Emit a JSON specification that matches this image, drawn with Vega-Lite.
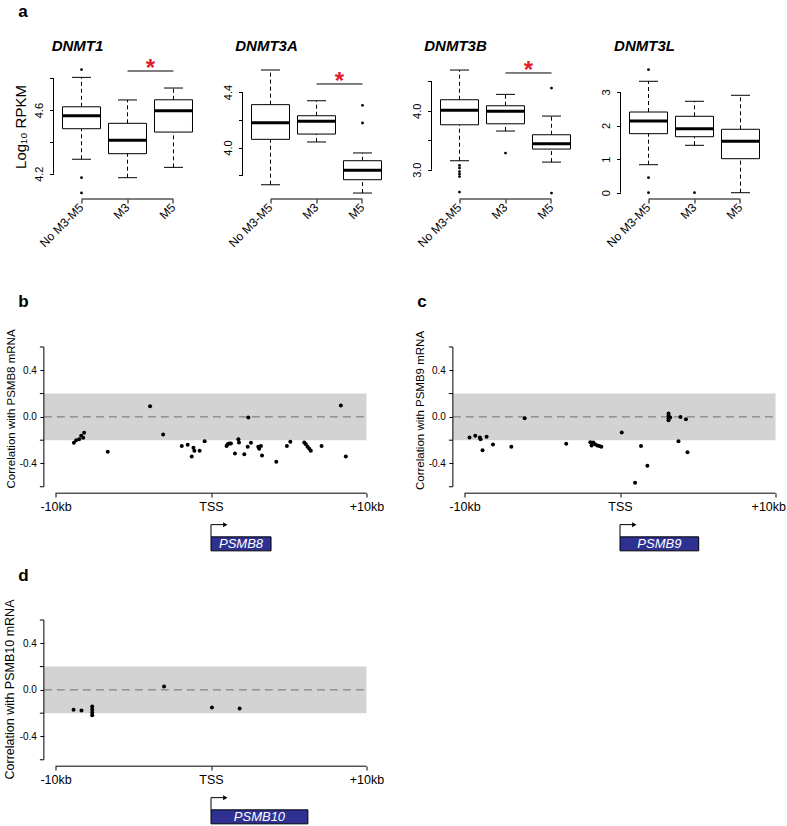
{
  "$schema": "https://vega.github.io/schema/vega-lite/v6.json",
  "padding": {"left": 2.5, "top": 2, "right": 0, "bottom": 0},
  "config": {
    "view": {"stroke": null},
    "font": "Liberation Sans",
    "locale": {"number": {"decimal": ".", "thousands": ",", "grouping": [3], "currency": ["$", ""], "minus": "-"}},
    "axis": {"labelFont": "Liberation Sans", "titleFont": "Liberation Sans", "labelColor": "black", "titleColor": "black", "tickColor": "black", "domainColor": "black", "grid": false, "titleFontWeight": "normal", "labelOverlap": false},
    "title": {"font": "Liberation Sans", "color": "black"}
  },
  "datasets": {
    "box": [
      {"gene": "DNMT1", "group": "No M3-M5", "lower": 4.291, "q1": 4.483, "median": 4.565, "q3": 4.621, "upper": 4.806},
      {"gene": "DNMT1", "group": "M3", "lower": 4.175, "q1": 4.326, "median": 4.41, "q3": 4.517, "upper": 4.664},
      {"gene": "DNMT1", "group": "M5", "lower": 4.24, "q1": 4.462, "median": 4.596, "q3": 4.665, "upper": 4.739},
      {"gene": "DNMT3A", "group": "No M3-M5", "lower": 3.732, "q1": 4.059, "median": 4.179, "q3": 4.309, "upper": 4.558},
      {"gene": "DNMT3A", "group": "M3", "lower": 4.04, "q1": 4.097, "median": 4.189, "q3": 4.229, "upper": 4.337},
      {"gene": "DNMT3A", "group": "M5", "lower": 3.672, "q1": 3.768, "median": 3.836, "q3": 3.905, "upper": 3.961},
      {"gene": "DNMT3B", "group": "No M3-M5", "lower": 3.152, "q1": 3.762, "median": 4.007, "q3": 4.187, "upper": 4.691},
      {"gene": "DNMT3B", "group": "M3", "lower": 3.656, "q1": 3.779, "median": 3.99, "q3": 4.085, "upper": 4.278},
      {"gene": "DNMT3B", "group": "M5", "lower": 3.129, "q1": 3.35, "median": 3.44, "q3": 3.593, "upper": 3.91},
      {"gene": "DNMT3L", "group": "No M3-M5", "lower": 0.834, "q1": 1.758, "median": 2.136, "q3": 2.404, "upper": 3.319},
      {"gene": "DNMT3L", "group": "M3", "lower": 1.412, "q1": 1.668, "median": 1.907, "q3": 2.276, "upper": 2.723},
      {"gene": "DNMT3L", "group": "M5", "lower": 0.0, "q1": 1.013, "median": 1.531, "q3": 1.889, "upper": 2.902}
    ],
    "outliers": [
      {"gene": "DNMT1", "group": "No M3-M5", "value": 4.855},
      {"gene": "DNMT1", "group": "No M3-M5", "value": 4.175},
      {"gene": "DNMT1", "group": "No M3-M5", "value": 4.079},
      {"gene": "DNMT3A", "group": "M5", "value": 4.304},
      {"gene": "DNMT3A", "group": "M5", "value": 4.177},
      {"gene": "DNMT3B", "group": "No M3-M5", "value": 3.073},
      {"gene": "DNMT3B", "group": "No M3-M5", "value": 3.028},
      {"gene": "DNMT3B", "group": "No M3-M5", "value": 2.968},
      {"gene": "DNMT3B", "group": "No M3-M5", "value": 2.926},
      {"gene": "DNMT3B", "group": "No M3-M5", "value": 2.883},
      {"gene": "DNMT3B", "group": "No M3-M5", "value": 2.62},
      {"gene": "DNMT3B", "group": "M3", "value": 3.282},
      {"gene": "DNMT3B", "group": "M5", "value": 4.385},
      {"gene": "DNMT3B", "group": "M5", "value": 2.603},
      {"gene": "DNMT3L", "group": "No M3-M5", "value": 3.664},
      {"gene": "DNMT3L", "group": "No M3-M5", "value": 0.447},
      {"gene": "DNMT3L", "group": "No M3-M5", "value": 0.0},
      {"gene": "DNMT3L", "group": "M3", "value": 0.0}
    ],
    "sig": [
      {"gene": "DNMT1", "from": "M3", "to": "M5", "y": 4.846},
      {"gene": "DNMT3A", "from": "M3", "to": "M5", "y": 4.458},
      {"gene": "DNMT3B", "from": "M3", "to": "M5", "y": 4.641}
    ],
    "axes": [
      {"gene": "DNMT1", "lo": 4.2, "hi": 4.8},
      {"gene": "DNMT3A", "lo": 3.8, "hi": 4.4},
      {"gene": "DNMT3B", "lo": 3.0, "hi": 4.5},
      {"gene": "DNMT3L", "lo": 0, "hi": 3}
    ],
    "band": [{"lo": -0.2, "hi": 0.2}],
    "yminor": [{"v": -0.6}, {"v": -0.2}, {"v": 0.2}, {"v": 0.6}],
    "genes": [
      {"panel": "b", "gene": "PSMB8", "start": 0, "end": 3.86},
      {"panel": "c", "gene": "PSMB9", "start": 0, "end": 5.06},
      {"panel": "d", "gene": "PSMB10", "start": 0, "end": 6.23}
    ],
    "corr": [
      {"panel": "b", "kb": -8.82, "r": -0.223}, {"panel": "b", "kb": -8.67, "r": -0.2}, {"panel": "b", "kb": -8.48, "r": -0.191},
      {"panel": "b", "kb": -8.35, "r": -0.163}, {"panel": "b", "kb": -8.22, "r": -0.18}, {"panel": "b", "kb": -8.16, "r": -0.137},
      {"panel": "b", "kb": -6.64, "r": -0.3}, {"panel": "b", "kb": -3.92, "r": 0.091}, {"panel": "b", "kb": -3.08, "r": -0.151},
      {"panel": "b", "kb": -1.88, "r": -0.249}, {"panel": "b", "kb": -1.5, "r": -0.24}, {"panel": "b", "kb": -1.24, "r": -0.34},
      {"panel": "b", "kb": -1.13, "r": -0.266}, {"panel": "b", "kb": -1.07, "r": -0.291}, {"panel": "b", "kb": -0.73, "r": -0.291},
      {"panel": "b", "kb": -0.41, "r": -0.209}, {"panel": "b", "kb": 1.0, "r": -0.249}, {"panel": "b", "kb": 1.07, "r": -0.234},
      {"panel": "b", "kb": 1.18, "r": -0.229}, {"panel": "b", "kb": 1.28, "r": -0.229}, {"panel": "b", "kb": 1.54, "r": -0.314},
      {"panel": "b", "kb": 1.76, "r": -0.191}, {"panel": "b", "kb": 1.8, "r": -0.22}, {"panel": "b", "kb": 2.14, "r": -0.32},
      {"panel": "b", "kb": 2.36, "r": -0.257}, {"panel": "b", "kb": 2.4, "r": -0.006}, {"panel": "b", "kb": 2.57, "r": -0.223},
      {"panel": "b", "kb": 3.04, "r": -0.257}, {"panel": "b", "kb": 3.1, "r": -0.274}, {"panel": "b", "kb": 3.21, "r": -0.249},
      {"panel": "b", "kb": 3.28, "r": -0.331}, {"panel": "b", "kb": 4.2, "r": -0.386}, {"panel": "b", "kb": 4.88, "r": -0.249},
      {"panel": "b", "kb": 5.1, "r": -0.214}, {"panel": "b", "kb": 6.0, "r": -0.22}, {"panel": "b", "kb": 6.1, "r": -0.234},
      {"panel": "b", "kb": 6.21, "r": -0.257}, {"panel": "b", "kb": 6.32, "r": -0.274}, {"panel": "b", "kb": 6.42, "r": -0.291},
      {"panel": "b", "kb": 7.11, "r": -0.249}, {"panel": "b", "kb": 8.35, "r": 0.097}, {"panel": "b", "kb": 8.67, "r": -0.34},
      {"panel": "c", "kb": -9.68, "r": -0.177}, {"panel": "c", "kb": -9.31, "r": -0.163}, {"panel": "c", "kb": -9.01, "r": -0.177},
      {"panel": "c", "kb": -8.97, "r": -0.191}, {"panel": "c", "kb": -8.84, "r": -0.286}, {"panel": "c", "kb": -8.58, "r": -0.171},
      {"panel": "c", "kb": -8.17, "r": -0.237}, {"panel": "c", "kb": -6.99, "r": -0.257}, {"panel": "c", "kb": -6.13, "r": -0.011},
      {"panel": "c", "kb": -3.46, "r": -0.231}, {"panel": "c", "kb": -1.91, "r": -0.217}, {"panel": "c", "kb": -1.83, "r": -0.246},
      {"panel": "c", "kb": -1.72, "r": -0.22}, {"panel": "c", "kb": -1.61, "r": -0.234}, {"panel": "c", "kb": -1.46, "r": -0.246},
      {"panel": "c", "kb": -1.33, "r": -0.251}, {"panel": "c", "kb": -1.2, "r": -0.257}, {"panel": "c", "kb": 0.11, "r": -0.134},
      {"panel": "c", "kb": 0.97, "r": -0.566}, {"panel": "c", "kb": 1.35, "r": -0.249}, {"panel": "c", "kb": 1.76, "r": -0.42},
      {"panel": "c", "kb": 3.12, "r": 0.029}, {"panel": "c", "kb": 3.12, "r": 0.009}, {"panel": "c", "kb": 3.12, "r": -0.011},
      {"panel": "c", "kb": 3.12, "r": -0.029}, {"panel": "c", "kb": 3.23, "r": -0.006}, {"panel": "c", "kb": 3.89, "r": 0.0},
      {"panel": "c", "kb": 3.76, "r": -0.209}, {"panel": "c", "kb": 4.24, "r": -0.02}, {"panel": "c", "kb": 4.34, "r": -0.303},
      {"panel": "d", "kb": -8.84, "r": -0.171}, {"panel": "d", "kb": -8.33, "r": -0.177}, {"panel": "d", "kb": -7.64, "r": -0.143},
      {"panel": "d", "kb": -7.64, "r": -0.169}, {"panel": "d", "kb": -7.64, "r": -0.194}, {"panel": "d", "kb": -7.64, "r": -0.217},
      {"panel": "d", "kb": -3.02, "r": 0.029}, {"panel": "d", "kb": 0.06, "r": -0.151}, {"panel": "d", "kb": 1.84, "r": -0.16}
    ]
  },
  "spacing": 44,
  "vconcat": [
    {
      "title": {"text": "a", "anchor": "start", "frame": "group", "dx": -35.3, "offset": 5, "baseline": "alphabetic", "fontSize": 17, "fontWeight": "bold"},
      "bounds": "flush",
      "spacing": 41,
      "hconcat": [
        {
          "width": 148, "height": 145,
          "title": {"text": "DNMT1", "anchor": "middle", "frame": "group", "dx": -50, "offset": -11.5, "baseline": "alphabetic", "fontSize": 15, "fontStyle": "italic", "fontWeight": "bold"},
          "encoding": {"x": {"field": "group", "type": "nominal", "title": null, "scale": {"domain": ["No M3-M5", "M3", "M5"], "paddingInner": 0, "paddingOuter": 0.1087}, "axis": {"domain": false, "tickSize": 4, "labelAngle": -45, "labelAlign": "right", "labelBaseline": "middle", "labelFontSize": 12, "labelPadding": 2}}},
          "layer": [
            {"data": {"name": "box"}, "transform": [{"filter": "datum.gene == 'DNMT1'"}], "mark": {"type": "rule", "strokeDash": [4, 3], "color": "black"},
             "encoding": {"y": {"field": "q3", "type": "quantitative", "scale": {"domain": [4.041, 4.953], "nice": false, "zero": false}, "axis": {"title": "Log\u2081\u2080 RPKM", "titleFontSize": 15, "titlePadding": 5, "domain": false, "values": [4.2, 4.4, 4.6, 4.8], "labelExpr": "datum.value == 4.2 || datum.value == 4.6 ? format(datum.value, '.1f') : ''", "tickSize": 4, "labelAngle": -90, "labelAlign": "center", "labelBaseline": "bottom", "labelPadding": 5, "labelFontSize": 11}}, "y2": {"field": "upper"}}},
            {"data": {"name": "box"}, "transform": [{"filter": "datum.gene == 'DNMT1'"}], "mark": {"type": "rule", "strokeDash": [4, 3], "color": "black"},
             "encoding": {"y": {"field": "lower", "type": "quantitative"}, "y2": {"field": "q1"}}},
            {"data": {"name": "box"}, "transform": [{"filter": "datum.gene == 'DNMT1'"}], "mark": {"type": "bar", "size": 38, "fill": "white", "stroke": "black", "strokeWidth": 1},
             "encoding": {"y": {"field": "q1", "type": "quantitative"}, "y2": {"field": "q3"}}},
            {"data": {"name": "box"}, "transform": [{"filter": "datum.gene == 'DNMT1'"}], "mark": {"type": "tick", "size": 38, "thickness": 3, "color": "black", "opacity": 1},
             "encoding": {"y": {"field": "median", "type": "quantitative"}}},
            {"data": {"name": "box"}, "transform": [{"filter": "datum.gene == 'DNMT1'"}], "mark": {"type": "tick", "size": 19, "thickness": 1, "color": "black", "opacity": 1},
             "encoding": {"y": {"field": "upper", "type": "quantitative"}}},
            {"data": {"name": "box"}, "transform": [{"filter": "datum.gene == 'DNMT1'"}], "mark": {"type": "tick", "size": 19, "thickness": 1, "color": "black", "opacity": 1},
             "encoding": {"y": {"field": "lower", "type": "quantitative"}}},
            {"data": {"name": "outliers"}, "transform": [{"filter": "datum.gene == 'DNMT1'"}], "mark": {"type": "circle", "size": 8, "color": "black", "opacity": 1},
             "encoding": {"y": {"field": "value", "type": "quantitative"}}},
            {"data": {"name": "sig"}, "transform": [{"filter": "datum.gene == 'DNMT1'"}], "mark": {"type": "rule", "color": "black"},
             "encoding": {"x": {"field": "from", "type": "nominal"}, "x2": {"field": "to"}, "y": {"field": "y", "type": "quantitative"}}},
            {"data": {"name": "sig"}, "transform": [{"filter": "datum.gene == 'DNMT1'"}], "mark": {"type": "text", "text": "*", "color": "#e0202b", "fontSize": 24, "fontWeight": "bold", "baseline": "alphabetic", "dy": 5},
             "encoding": {"x": {"field": "from", "type": "nominal", "bandPosition": 1}, "y": {"field": "y", "type": "quantitative"}}},
            {"data": {"name": "axes"}, "transform": [{"filter": "datum.gene == 'DNMT1'"}], "mark": {"type": "rule", "color": "black", "xOffset": -28},
             "encoding": {"x": {"datum": "No M3-M5", "type": "nominal"}, "y": {"field": "lo", "type": "quantitative"}, "y2": {"field": "hi"}}},
            {"data": {"name": "axes"}, "transform": [{"filter": "datum.gene == 'DNMT1'"}], "mark": {"type": "rule", "color": "black"},
             "encoding": {"x": {"datum": "No M3-M5", "type": "nominal"}, "x2": {"datum": "M5"}, "y": {"datum": 4.041, "type": "quantitative"}}}
          ]
        },
        {
          "width": 148, "height": 145,
          "title": {"text": "DNMT3A", "anchor": "middle", "frame": "group", "dx": -50, "offset": -11.5, "baseline": "alphabetic", "fontSize": 15, "fontStyle": "italic", "fontWeight": "bold"},
          "encoding": {"x": {"field": "group", "type": "nominal", "title": null, "scale": {"domain": ["No M3-M5", "M3", "M5"], "paddingInner": 0, "paddingOuter": 0.1087}, "axis": {"domain": false, "tickSize": 4, "labelAngle": -45, "labelAlign": "right", "labelBaseline": "middle", "labelFontSize": 12, "labelPadding": 2}}},
          "layer": [
            {"data": {"name": "box"}, "transform": [{"filter": "datum.gene == 'DNMT3A'"}], "mark": {"type": "rule", "strokeDash": [4, 3], "color": "black"},
             "encoding": {"y": {"field": "q3", "type": "quantitative", "scale": {"domain": [3.629, 4.674], "nice": false, "zero": false}, "axis": {"title": "", "domain": false, "values": [3.8, 4.0, 4.2, 4.4], "labelExpr": "datum.value == 4 || datum.value == 4.4 ? format(datum.value, '.1f') : ''", "tickSize": 4, "labelAngle": -90, "labelAlign": "center", "labelBaseline": "bottom", "labelPadding": 5, "labelFontSize": 11}}, "y2": {"field": "upper"}}},
            {"data": {"name": "box"}, "transform": [{"filter": "datum.gene == 'DNMT3A'"}], "mark": {"type": "rule", "strokeDash": [4, 3], "color": "black"},
             "encoding": {"y": {"field": "lower", "type": "quantitative"}, "y2": {"field": "q1"}}},
            {"data": {"name": "box"}, "transform": [{"filter": "datum.gene == 'DNMT3A'"}], "mark": {"type": "bar", "size": 38, "fill": "white", "stroke": "black", "strokeWidth": 1},
             "encoding": {"y": {"field": "q1", "type": "quantitative"}, "y2": {"field": "q3"}}},
            {"data": {"name": "box"}, "transform": [{"filter": "datum.gene == 'DNMT3A'"}], "mark": {"type": "tick", "size": 38, "thickness": 3, "color": "black", "opacity": 1},
             "encoding": {"y": {"field": "median", "type": "quantitative"}}},
            {"data": {"name": "box"}, "transform": [{"filter": "datum.gene == 'DNMT3A'"}], "mark": {"type": "tick", "size": 19, "thickness": 1, "color": "black", "opacity": 1},
             "encoding": {"y": {"field": "upper", "type": "quantitative"}}},
            {"data": {"name": "box"}, "transform": [{"filter": "datum.gene == 'DNMT3A'"}], "mark": {"type": "tick", "size": 19, "thickness": 1, "color": "black", "opacity": 1},
             "encoding": {"y": {"field": "lower", "type": "quantitative"}}},
            {"data": {"name": "outliers"}, "transform": [{"filter": "datum.gene == 'DNMT3A'"}], "mark": {"type": "circle", "size": 8, "color": "black", "opacity": 1},
             "encoding": {"y": {"field": "value", "type": "quantitative"}}},
            {"data": {"name": "sig"}, "transform": [{"filter": "datum.gene == 'DNMT3A'"}], "mark": {"type": "rule", "color": "black"},
             "encoding": {"x": {"field": "from", "type": "nominal"}, "x2": {"field": "to"}, "y": {"field": "y", "type": "quantitative"}}},
            {"data": {"name": "sig"}, "transform": [{"filter": "datum.gene == 'DNMT3A'"}], "mark": {"type": "text", "text": "*", "color": "#e0202b", "fontSize": 24, "fontWeight": "bold", "baseline": "alphabetic", "dy": 5},
             "encoding": {"x": {"field": "from", "type": "nominal", "bandPosition": 1}, "y": {"field": "y", "type": "quantitative"}}},
            {"data": {"name": "axes"}, "transform": [{"filter": "datum.gene == 'DNMT3A'"}], "mark": {"type": "rule", "color": "black", "xOffset": -28},
             "encoding": {"x": {"datum": "No M3-M5", "type": "nominal"}, "y": {"field": "lo", "type": "quantitative"}, "y2": {"field": "hi"}}},
            {"data": {"name": "axes"}, "transform": [{"filter": "datum.gene == 'DNMT3A'"}], "mark": {"type": "rule", "color": "black"},
             "encoding": {"x": {"datum": "No M3-M5", "type": "nominal"}, "x2": {"datum": "M5"}, "y": {"datum": 3.629, "type": "quantitative"}}}
          ]
        },
        {
          "width": 148, "height": 145,
          "title": {"text": "DNMT3B", "anchor": "middle", "frame": "group", "dx": -50, "offset": -11.5, "baseline": "alphabetic", "fontSize": 15, "fontStyle": "italic", "fontWeight": "bold"},
          "encoding": {"x": {"field": "group", "type": "nominal", "title": null, "scale": {"domain": ["No M3-M5", "M3", "M5"], "paddingInner": 0, "paddingOuter": 0.1087}, "axis": {"domain": false, "tickSize": 4, "labelAngle": -45, "labelAlign": "right", "labelBaseline": "middle", "labelFontSize": 12, "labelPadding": 2}}},
          "layer": [
            {"data": {"name": "box"}, "transform": [{"filter": "datum.gene == 'DNMT3B'"}], "mark": {"type": "rule", "strokeDash": [4, 3], "color": "black"},
             "encoding": {"y": {"field": "q3", "type": "quantitative", "scale": {"domain": [2.503, 4.963], "nice": false, "zero": false}, "axis": {"title": "", "domain": false, "values": [3.0, 3.5, 4.0, 4.5], "labelExpr": "datum.value == 3 || datum.value == 4 ? format(datum.value, '.1f') : ''", "tickSize": 4, "labelAngle": -90, "labelAlign": "center", "labelBaseline": "bottom", "labelPadding": 5, "labelFontSize": 11}}, "y2": {"field": "upper"}}},
            {"data": {"name": "box"}, "transform": [{"filter": "datum.gene == 'DNMT3B'"}], "mark": {"type": "rule", "strokeDash": [4, 3], "color": "black"},
             "encoding": {"y": {"field": "lower", "type": "quantitative"}, "y2": {"field": "q1"}}},
            {"data": {"name": "box"}, "transform": [{"filter": "datum.gene == 'DNMT3B'"}], "mark": {"type": "bar", "size": 38, "fill": "white", "stroke": "black", "strokeWidth": 1},
             "encoding": {"y": {"field": "q1", "type": "quantitative"}, "y2": {"field": "q3"}}},
            {"data": {"name": "box"}, "transform": [{"filter": "datum.gene == 'DNMT3B'"}], "mark": {"type": "tick", "size": 38, "thickness": 3, "color": "black", "opacity": 1},
             "encoding": {"y": {"field": "median", "type": "quantitative"}}},
            {"data": {"name": "box"}, "transform": [{"filter": "datum.gene == 'DNMT3B'"}], "mark": {"type": "tick", "size": 19, "thickness": 1, "color": "black", "opacity": 1},
             "encoding": {"y": {"field": "upper", "type": "quantitative"}}},
            {"data": {"name": "box"}, "transform": [{"filter": "datum.gene == 'DNMT3B'"}], "mark": {"type": "tick", "size": 19, "thickness": 1, "color": "black", "opacity": 1},
             "encoding": {"y": {"field": "lower", "type": "quantitative"}}},
            {"data": {"name": "outliers"}, "transform": [{"filter": "datum.gene == 'DNMT3B'"}], "mark": {"type": "circle", "size": 8, "color": "black", "opacity": 1},
             "encoding": {"y": {"field": "value", "type": "quantitative"}}},
            {"data": {"name": "sig"}, "transform": [{"filter": "datum.gene == 'DNMT3B'"}], "mark": {"type": "rule", "color": "black"},
             "encoding": {"x": {"field": "from", "type": "nominal"}, "x2": {"field": "to"}, "y": {"field": "y", "type": "quantitative"}}},
            {"data": {"name": "sig"}, "transform": [{"filter": "datum.gene == 'DNMT3B'"}], "mark": {"type": "text", "text": "*", "color": "#e0202b", "fontSize": 24, "fontWeight": "bold", "baseline": "alphabetic", "dy": 5},
             "encoding": {"x": {"field": "from", "type": "nominal", "bandPosition": 1}, "y": {"field": "y", "type": "quantitative"}}},
            {"data": {"name": "axes"}, "transform": [{"filter": "datum.gene == 'DNMT3B'"}], "mark": {"type": "rule", "color": "black", "xOffset": -28},
             "encoding": {"x": {"datum": "No M3-M5", "type": "nominal"}, "y": {"field": "lo", "type": "quantitative"}, "y2": {"field": "hi"}}},
            {"data": {"name": "axes"}, "transform": [{"filter": "datum.gene == 'DNMT3B'"}], "mark": {"type": "rule", "color": "black"},
             "encoding": {"x": {"datum": "No M3-M5", "type": "nominal"}, "x2": {"datum": "M5"}, "y": {"datum": 2.503, "type": "quantitative"}}}
          ]
        },
        {
          "width": 148, "height": 145,
          "title": {"text": "DNMT3L", "anchor": "middle", "frame": "group", "dx": -50, "offset": -11.5, "baseline": "alphabetic", "fontSize": 15, "fontStyle": "italic", "fontWeight": "bold"},
          "encoding": {"x": {"field": "group", "type": "nominal", "title": null, "scale": {"domain": ["No M3-M5", "M3", "M5"], "paddingInner": 0, "paddingOuter": 0.1087}, "axis": {"domain": false, "tickSize": 4, "labelAngle": -45, "labelAlign": "right", "labelBaseline": "middle", "labelFontSize": 12, "labelPadding": 2}}},
          "layer": [
            {"data": {"name": "box"}, "transform": [{"filter": "datum.gene == 'DNMT3L'"}], "mark": {"type": "rule", "strokeDash": [4, 3], "color": "black"},
             "encoding": {"y": {"field": "q3", "type": "quantitative", "scale": {"domain": [-0.188, 4.132], "nice": false, "zero": false}, "axis": {"title": "", "domain": false, "values": [0, 1, 2, 3], "format": "d", "tickSize": 4, "labelAngle": -90, "labelAlign": "center", "labelBaseline": "bottom", "labelPadding": 5, "labelFontSize": 11}}, "y2": {"field": "upper"}}},
            {"data": {"name": "box"}, "transform": [{"filter": "datum.gene == 'DNMT3L'"}], "mark": {"type": "rule", "strokeDash": [4, 3], "color": "black"},
             "encoding": {"y": {"field": "lower", "type": "quantitative"}, "y2": {"field": "q1"}}},
            {"data": {"name": "box"}, "transform": [{"filter": "datum.gene == 'DNMT3L'"}], "mark": {"type": "bar", "size": 38, "fill": "white", "stroke": "black", "strokeWidth": 1},
             "encoding": {"y": {"field": "q1", "type": "quantitative"}, "y2": {"field": "q3"}}},
            {"data": {"name": "box"}, "transform": [{"filter": "datum.gene == 'DNMT3L'"}], "mark": {"type": "tick", "size": 38, "thickness": 3, "color": "black", "opacity": 1},
             "encoding": {"y": {"field": "median", "type": "quantitative"}}},
            {"data": {"name": "box"}, "transform": [{"filter": "datum.gene == 'DNMT3L'"}], "mark": {"type": "tick", "size": 19, "thickness": 1, "color": "black", "opacity": 1},
             "encoding": {"y": {"field": "upper", "type": "quantitative"}}},
            {"data": {"name": "box"}, "transform": [{"filter": "datum.gene == 'DNMT3L'"}], "mark": {"type": "tick", "size": 19, "thickness": 1, "color": "black", "opacity": 1},
             "encoding": {"y": {"field": "lower", "type": "quantitative"}}},
            {"data": {"name": "outliers"}, "transform": [{"filter": "datum.gene == 'DNMT3L'"}], "mark": {"type": "circle", "size": 8, "color": "black", "opacity": 1},
             "encoding": {"y": {"field": "value", "type": "quantitative"}}},
            {"data": {"name": "axes"}, "transform": [{"filter": "datum.gene == 'DNMT3L'"}], "mark": {"type": "rule", "color": "black", "xOffset": -28},
             "encoding": {"x": {"datum": "No M3-M5", "type": "nominal"}, "y": {"field": "lo", "type": "quantitative"}, "y2": {"field": "hi"}}},
            {"data": {"name": "axes"}, "transform": [{"filter": "datum.gene == 'DNMT3L'"}], "mark": {"type": "rule", "color": "black"},
             "encoding": {"x": {"datum": "No M3-M5", "type": "nominal"}, "x2": {"datum": "M5"}, "y": {"datum": -0.188, "type": "quantitative"}}}
          ]
        }
      ]
    },
    {
      "spacing": 14,
      "vconcat": [
        {
          "bounds": "flush",
          "spacing": 96,
          "hconcat": [
            {
              "width": 313, "height": 205,
              "title": {"text": "b", "anchor": "start", "frame": "group", "dx": -35.3, "offset": 4.5, "baseline": "alphabetic", "fontSize": 17, "fontWeight": "bold"},
              "layer": [
                {"data": {"name": "band"}, "mark": {"type": "rect", "color": "#d3d3d3"},
                 "encoding": {"x": {"datum": -10.75, "type": "quantitative"}, "x2": {"datum": 10}, "y": {"field": "lo", "type": "quantitative"}, "y2": {"field": "hi"}}},
                {"data": {"name": "band"}, "mark": {"type": "rule", "strokeDash": [8, 5], "color": "#6f6f6f"},
                 "encoding": {"x": {"datum": -10.75, "type": "quantitative"}, "x2": {"datum": 10}, "y": {"datum": 0, "type": "quantitative"}}},
                {"data": {"name": "corr"}, "transform": [{"filter": "datum.panel == 'b'"}], "mark": {"type": "circle", "size": 16, "color": "black", "opacity": 1},
                 "encoding": {
                   "x": {"field": "kb", "type": "quantitative", "scale": {"domain": [-10.13, 10], "nice": false, "zero": false}, "axis": {"title": "", "values": [-10, 0, 10], "labelExpr": "datum.value == -10 ? '-10kb' : datum.value == 0 ? 'TSS' : '+10kb'", "domain": false, "tickSize": 4, "offset": -59, "labelPadding": 3, "labelFontSize": 12.5, "labelFlush": false}},
                   "y": {"field": "r", "type": "quantitative", "scale": {"domain": [-1.16, 0.6], "nice": false, "zero": false}, "axis": {"title": "Correlation with PSMB8 mRNA", "titleFontSize": 11.5, "titlePadding": 3, "titleY": 61.5, "offset": 9.6, "values": [-0.4, 0, 0.4], "format": ".1f", "domain": false, "tickSize": 4, "labelPadding": 3.5, "labelFontSize": 10}}}},
                {"data": {"name": "yminor"}, "mark": {"type": "rule", "color": "black"},
                 "encoding": {"x": {"datum": -11.007, "type": "quantitative"}, "x2": {"datum": -10.75}, "y": {"field": "v", "type": "quantitative"}}},
                {"data": {"name": "band"}, "mark": {"type": "rule", "color": "black"},
                 "encoding": {"x": {"datum": -10.75, "type": "quantitative"}, "y": {"datum": -0.6, "type": "quantitative"}, "y2": {"datum": 0.6}}},
                {"data": {"name": "band"}, "mark": {"type": "rule", "color": "black"},
                 "encoding": {"x": {"datum": -10, "type": "quantitative"}, "x2": {"datum": 10}, "y": {"datum": -0.655, "type": "quantitative"}}},
                {"data": {"name": "genes"}, "transform": [{"filter": "datum.panel == 'b'"}], "mark": {"type": "rect", "fill": "#2e3192", "stroke": "black", "strokeWidth": 1},
                 "encoding": {"x": {"field": "start", "type": "quantitative"}, "x2": {"field": "end"}, "y": {"datum": -1.03, "type": "quantitative"}, "y2": {"datum": -1.15}}},
                {"data": {"name": "genes"}, "transform": [{"filter": "datum.panel == 'b'"}, {"fold": ["start", "end"], "as": ["edge", "kbpos"]}], "mark": {"type": "text", "color": "white", "fontStyle": "italic", "fontSize": 13, "baseline": "middle"},
                 "encoding": {"x": {"aggregate": "mean", "field": "kbpos", "type": "quantitative"}, "y": {"datum": -1.09, "type": "quantitative"}, "text": {"field": "gene"}}},
                {"data": {"name": "genes"}, "transform": [{"filter": "datum.panel == 'b'"}], "mark": {"type": "rule", "color": "black"},
                 "encoding": {"x": {"field": "start", "type": "quantitative"}, "y": {"datum": -1.03, "type": "quantitative"}, "y2": {"datum": -0.925}}},
                {"data": {"name": "genes"}, "transform": [{"filter": "datum.panel == 'b'"}], "mark": {"type": "rule", "color": "black"},
                 "encoding": {"x": {"field": "start", "type": "quantitative"}, "x2": {"datum": 0.85}, "y": {"datum": -0.925, "type": "quantitative"}}},
                {"data": {"name": "genes"}, "transform": [{"filter": "datum.panel == 'b'"}], "mark": {"type": "point", "shape": "triangle-right", "filled": true, "size": 25, "color": "black", "opacity": 1},
                 "encoding": {"x": {"datum": 0.92, "type": "quantitative"}, "y": {"datum": -0.925, "type": "quantitative"}}}
              ]
            },
            {
              "width": 313, "height": 205,
              "title": {"text": "c", "anchor": "start", "frame": "group", "dx": -45.3, "offset": 6, "baseline": "alphabetic", "fontSize": 17, "fontWeight": "bold"},
              "layer": [
                {"data": {"name": "band"}, "mark": {"type": "rect", "color": "#d3d3d3"},
                 "encoding": {"x": {"datum": -10.75, "type": "quantitative"}, "x2": {"datum": 10}, "y": {"field": "lo", "type": "quantitative"}, "y2": {"field": "hi"}}},
                {"data": {"name": "band"}, "mark": {"type": "rule", "strokeDash": [8, 5], "color": "#6f6f6f"},
                 "encoding": {"x": {"datum": -10.75, "type": "quantitative"}, "x2": {"datum": 10}, "y": {"datum": 0, "type": "quantitative"}}},
                {"data": {"name": "corr"}, "transform": [{"filter": "datum.panel == 'c'"}], "mark": {"type": "circle", "size": 16, "color": "black", "opacity": 1},
                 "encoding": {
                   "x": {"field": "kb", "type": "quantitative", "scale": {"domain": [-10.13, 10], "nice": false, "zero": false}, "axis": {"title": "", "values": [-10, 0, 10], "labelExpr": "datum.value == -10 ? '-10kb' : datum.value == 0 ? 'TSS' : '+10kb'", "domain": false, "tickSize": 4, "offset": -59, "labelPadding": 3, "labelFontSize": 12.5, "labelFlush": true, "labelFlushOffset": 10}},
                   "y": {"field": "r", "type": "quantitative", "scale": {"domain": [-1.16, 0.6], "nice": false, "zero": false}, "axis": {"title": "Correlation with PSMB9 mRNA", "titleFontSize": 11.5, "titlePadding": 3, "titleY": 63, "offset": 9.6, "values": [-0.4, 0, 0.4], "format": ".1f", "domain": false, "tickSize": 4, "labelPadding": 3.5, "labelFontSize": 10}}}},
                {"data": {"name": "yminor"}, "mark": {"type": "rule", "color": "black"},
                 "encoding": {"x": {"datum": -11.007, "type": "quantitative"}, "x2": {"datum": -10.75}, "y": {"field": "v", "type": "quantitative"}}},
                {"data": {"name": "band"}, "mark": {"type": "rule", "color": "black"},
                 "encoding": {"x": {"datum": -10.75, "type": "quantitative"}, "y": {"datum": -0.6, "type": "quantitative"}, "y2": {"datum": 0.6}}},
                {"data": {"name": "band"}, "mark": {"type": "rule", "color": "black"},
                 "encoding": {"x": {"datum": -10, "type": "quantitative"}, "x2": {"datum": 10}, "y": {"datum": -0.655, "type": "quantitative"}}},
                {"data": {"name": "genes"}, "transform": [{"filter": "datum.panel == 'c'"}], "mark": {"type": "rect", "fill": "#2e3192", "stroke": "black", "strokeWidth": 1},
                 "encoding": {"x": {"field": "start", "type": "quantitative"}, "x2": {"field": "end"}, "y": {"datum": -1.03, "type": "quantitative"}, "y2": {"datum": -1.15}}},
                {"data": {"name": "genes"}, "transform": [{"filter": "datum.panel == 'c'"}, {"fold": ["start", "end"], "as": ["edge", "kbpos"]}], "mark": {"type": "text", "color": "white", "fontStyle": "italic", "fontSize": 13, "baseline": "middle"},
                 "encoding": {"x": {"aggregate": "mean", "field": "kbpos", "type": "quantitative"}, "y": {"datum": -1.09, "type": "quantitative"}, "text": {"field": "gene"}}},
                {"data": {"name": "genes"}, "transform": [{"filter": "datum.panel == 'c'"}], "mark": {"type": "rule", "color": "black"},
                 "encoding": {"x": {"field": "start", "type": "quantitative"}, "y": {"datum": -1.03, "type": "quantitative"}, "y2": {"datum": -0.925}}},
                {"data": {"name": "genes"}, "transform": [{"filter": "datum.panel == 'c'"}], "mark": {"type": "rule", "color": "black"},
                 "encoding": {"x": {"field": "start", "type": "quantitative"}, "x2": {"datum": 0.85}, "y": {"datum": -0.925, "type": "quantitative"}}},
                {"data": {"name": "genes"}, "transform": [{"filter": "datum.panel == 'c'"}], "mark": {"type": "point", "shape": "triangle-right", "filled": true, "size": 25, "color": "black", "opacity": 1},
                 "encoding": {"x": {"datum": 0.92, "type": "quantitative"}, "y": {"datum": -0.925, "type": "quantitative"}}}
              ]
            }
          ]
        },
        {
          "width": 313, "height": 205,
          "title": {"text": "d", "anchor": "start", "frame": "group", "dx": -35.3, "offset": 1.5, "baseline": "alphabetic", "fontSize": 17, "fontWeight": "bold"},
          "layer": [
            {"data": {"name": "band"}, "mark": {"type": "rect", "color": "#d3d3d3"},
             "encoding": {"x": {"datum": -10.75, "type": "quantitative"}, "x2": {"datum": 10}, "y": {"field": "lo", "type": "quantitative"}, "y2": {"field": "hi"}}},
            {"data": {"name": "band"}, "mark": {"type": "rule", "strokeDash": [8, 5], "color": "#6f6f6f"},
             "encoding": {"x": {"datum": -10.75, "type": "quantitative"}, "x2": {"datum": 10}, "y": {"datum": 0, "type": "quantitative"}}},
            {"data": {"name": "corr"}, "transform": [{"filter": "datum.panel == 'd'"}], "mark": {"type": "circle", "size": 16, "color": "black", "opacity": 1},
             "encoding": {
               "x": {"field": "kb", "type": "quantitative", "scale": {"domain": [-10.13, 10], "nice": false, "zero": false}, "axis": {"title": "", "values": [-10, 0, 10], "labelExpr": "datum.value == -10 ? '-10kb' : datum.value == 0 ? 'TSS' : '+10kb'", "domain": false, "tickSize": 4, "offset": -59, "labelPadding": 3, "labelFontSize": 12.5, "labelFlush": false}},
               "y": {"field": "r", "type": "quantitative", "scale": {"domain": [-1.16, 0.6], "nice": false, "zero": false}, "axis": {"title": "Correlation with PSMB10 mRNA", "titleFontSize": 12.5, "titlePadding": 3, "titleY": 69, "offset": 9.6, "values": [-0.4, 0, 0.4], "format": ".1f", "domain": false, "tickSize": 4, "labelPadding": 3.5, "labelFontSize": 10}}}},
            {"data": {"name": "yminor"}, "mark": {"type": "rule", "color": "black"},
             "encoding": {"x": {"datum": -11.007, "type": "quantitative"}, "x2": {"datum": -10.75}, "y": {"field": "v", "type": "quantitative"}}},
            {"data": {"name": "band"}, "mark": {"type": "rule", "color": "black"},
             "encoding": {"x": {"datum": -10.75, "type": "quantitative"}, "y": {"datum": -0.6, "type": "quantitative"}, "y2": {"datum": 0.6}}},
            {"data": {"name": "band"}, "mark": {"type": "rule", "color": "black"},
             "encoding": {"x": {"datum": -10, "type": "quantitative"}, "x2": {"datum": 10}, "y": {"datum": -0.655, "type": "quantitative"}}},
            {"data": {"name": "genes"}, "transform": [{"filter": "datum.panel == 'd'"}], "mark": {"type": "rect", "fill": "#2e3192", "stroke": "black", "strokeWidth": 1},
             "encoding": {"x": {"field": "start", "type": "quantitative"}, "x2": {"field": "end"}, "y": {"datum": -1.03, "type": "quantitative"}, "y2": {"datum": -1.15}}},
            {"data": {"name": "genes"}, "transform": [{"filter": "datum.panel == 'd'"}, {"fold": ["start", "end"], "as": ["edge", "kbpos"]}], "mark": {"type": "text", "color": "white", "fontStyle": "italic", "fontSize": 13, "baseline": "middle"},
             "encoding": {"x": {"aggregate": "mean", "field": "kbpos", "type": "quantitative"}, "y": {"datum": -1.09, "type": "quantitative"}, "text": {"field": "gene"}}},
            {"data": {"name": "genes"}, "transform": [{"filter": "datum.panel == 'd'"}], "mark": {"type": "rule", "color": "black"},
             "encoding": {"x": {"field": "start", "type": "quantitative"}, "y": {"datum": -1.03, "type": "quantitative"}, "y2": {"datum": -0.925}}},
            {"data": {"name": "genes"}, "transform": [{"filter": "datum.panel == 'd'"}], "mark": {"type": "rule", "color": "black"},
             "encoding": {"x": {"field": "start", "type": "quantitative"}, "x2": {"datum": 0.85}, "y": {"datum": -0.925, "type": "quantitative"}}},
            {"data": {"name": "genes"}, "transform": [{"filter": "datum.panel == 'd'"}], "mark": {"type": "point", "shape": "triangle-right", "filled": true, "size": 25, "color": "black", "opacity": 1},
             "encoding": {"x": {"datum": 0.92, "type": "quantitative"}, "y": {"datum": -0.925, "type": "quantitative"}}}
          ]
        }
      ]
    }
  ]
}
